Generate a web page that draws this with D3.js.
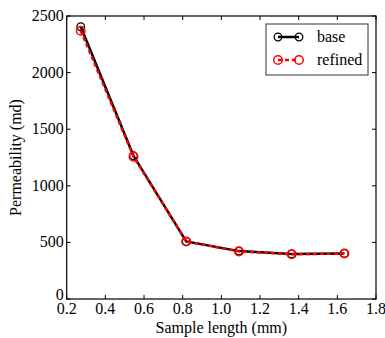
<!DOCTYPE html>
<html><head><meta charset="utf-8">
<script src="https://cdn.jsdelivr.net/npm/d3@7"></script>
<style>body{margin:0;background:#fff}svg{display:block}</style>
</head><body>
<script>
const sampleLength = [0.2727, 0.5455, 0.8182, 1.0909, 1.3636, 1.6364];
const base = [2405, 1265, 508, 423, 398, 403];
const refined = [2370, 1258, 508, 421, 395, 402];
const xTicks = [0.2, 0.4, 0.6, 0.8, 1.0, 1.2, 1.4, 1.6, 1.8];
const yTicks = [0, 500, 1000, 1500, 2000, 2500];

const FONT = "'Liberation Serif', 'Times New Roman', Times, serif";
const W = 385, H = 338;
const svg = d3.select("body").append("svg").attr("width", W).attr("height", H)
  .attr("font-family", FONT).style("font-family", FONT);
const x = d3.scaleLinear().domain([0.2, 1.8]).range([66.7, 376]);
const y = d3.scaleLinear().domain([0, 2500]).range([299, 16]);

svg.append("rect").attr("x", x(0.2)).attr("y", y(2500)).attr("width", x(1.8) - x(0.2)).attr("height", y(0) - y(2500))
  .attr("fill", "none").attr("stroke", "#000").attr("stroke-width", 1.2);

const tl = 4;
const g = svg.append("g").attr("stroke", "#000").attr("stroke-width", 1);
xTicks.forEach(t => {
  g.append("line").attr("x1", x(t)).attr("x2", x(t)).attr("y1", y(0)).attr("y2", y(0) - tl);
  g.append("line").attr("x1", x(t)).attr("x2", x(t)).attr("y1", y(2500)).attr("y2", y(2500) + tl);
});
yTicks.forEach(t => {
  g.append("line").attr("x1", x(0.2)).attr("x2", x(0.2) + tl).attr("y1", y(t)).attr("y2", y(t));
  g.append("line").attr("x1", x(1.8)).attr("x2", x(1.8) - tl).attr("y1", y(t)).attr("y2", y(t));
});
svg.append("g").selectAll("text").data(xTicks).join("text")
  .attr("x", d => x(d)).attr("y", y(0) + 15).attr("text-anchor", "middle").attr("font-size", 16)
  .text(d => d.toFixed(1));
svg.append("g").selectAll("text").data(yTicks).join("text")
  .attr("x", x(0.2) - 3).attr("y", d => d === 0 ? y(d) + 1 : y(d) + 5).attr("text-anchor", "end").attr("font-size", 16)
  .text(d => d);

svg.append("text").attr("x", (x(0.2) + x(1.8)) / 2).attr("y", 333).attr("text-anchor", "middle").attr("font-size", 16)
  .text("Sample length (mm)");
svg.append("text").attr("transform", `translate(21,${(y(0) + y(2500)) / 2}) rotate(-90)`).attr("text-anchor", "middle").attr("font-size", 16)
  .text("Permeability (md)");

const line = d3.line().x(d => x(d[0])).y(d => y(d[1]));
const bData = sampleLength.map((v, i) => [v, base[i]]);
const rData = sampleLength.map((v, i) => [v, refined[i]]);
svg.append("path").attr("d", line(bData)).attr("fill", "none").attr("stroke", "#000").attr("stroke-width", 2.5);
svg.append("g").selectAll("circle").data(bData).join("circle")
  .attr("cx", d => x(d[0])).attr("cy", d => y(d[1])).attr("r", 3.8)
  .attr("fill", "none").attr("stroke", "#000").attr("stroke-width", 1.3);
svg.append("path").attr("d", line(rData)).attr("fill", "none").attr("stroke", "#ff0000").attr("stroke-width", 2.5)
  .attr("stroke-dasharray", "4,3");
svg.append("g").selectAll("circle").data(rData).join("circle")
  .attr("cx", d => x(d[0])).attr("cy", d => y(d[1])).attr("r", 4.3)
  .attr("fill", "none").attr("stroke", "#ff0000").attr("stroke-width", 1.5);

const lg = svg.append("g");
lg.append("rect").attr("x", 266).attr("y", 24).attr("width", 102).attr("height", 51)
  .attr("fill", "#fff").attr("stroke", "#333").attr("stroke-width", 1);
const items = [{label: "base", color: "#000", dash: null, r: 3.8, sw: 1.3}, {label: "refined", color: "#ff0000", dash: "4,3", r: 4.3, sw: 1.5}];
items.forEach((it, i) => {
  const yy = 37 + i * 23;
  lg.append("line").attr("x1", 278).attr("x2", 299).attr("y1", yy).attr("y2", yy)
    .attr("stroke", it.color).attr("stroke-width", 2.5).attr("stroke-dasharray", it.dash);
  [278, 299].forEach(cx => lg.append("circle").attr("cx", cx).attr("cy", yy).attr("r", it.r)
    .attr("fill", "none").attr("stroke", it.color).attr("stroke-width", it.sw));
  lg.append("text").attr("x", 317).attr("y", yy + 5).attr("font-size", 16).text(it.label);
});
</script>
</body></html>
